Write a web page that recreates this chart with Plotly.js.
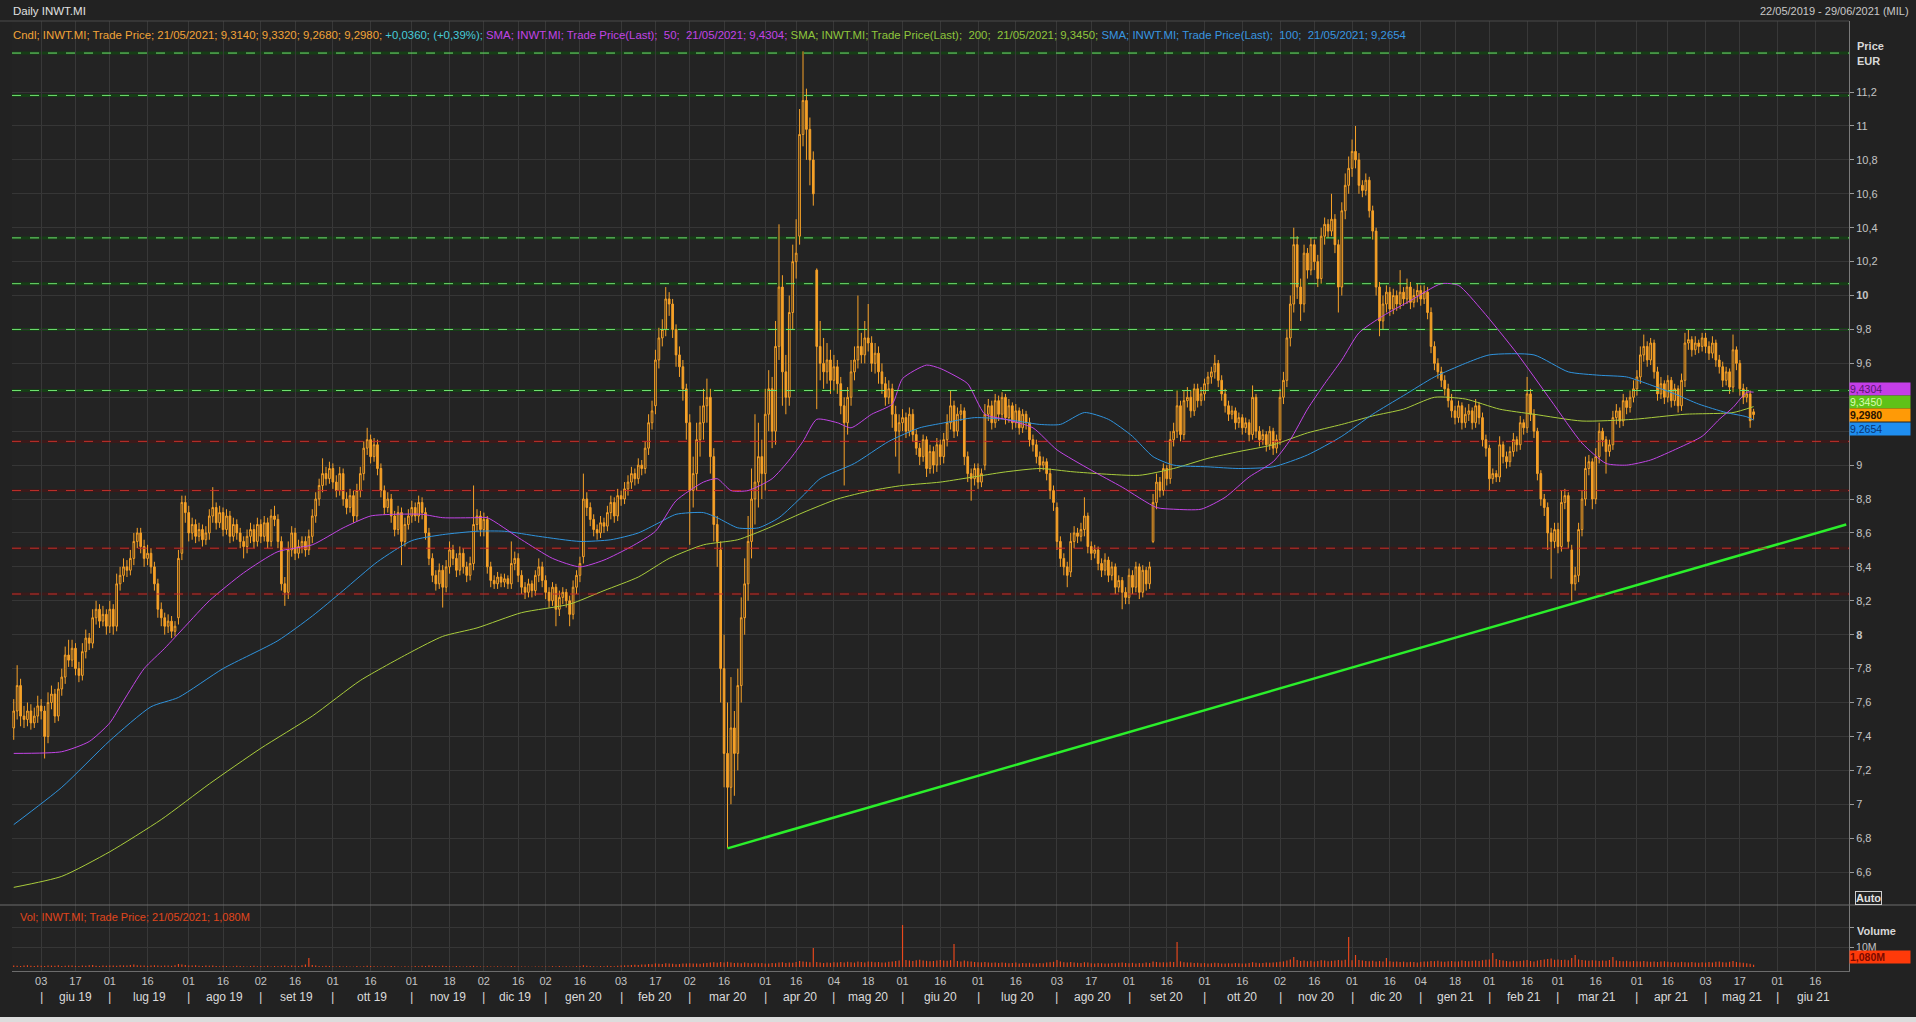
<!DOCTYPE html>
<html>
<head>
<meta charset="utf-8">
<script src="https://cdn.plot.ly/plotly-3.0.1.min.js"></script>
<style>
html,body{margin:0;padding:0;background:#222222;overflow:hidden;}
#chart{width:1916px;height:1022px;}
</style>
</head>
<body>
<div id="chart"></div>
<script>
// ---------------- DATA ----------------
const ticker = 'INWT.MI';
const startDate = '2019-05-22';
const endDate = '2021-06-29';
const marketHolidays = ['2019-08-15','2019-12-24','2019-12-25','2019-12-26','2019-12-31','2020-01-01',
  '2020-04-10','2020-04-13','2020-05-01','2020-12-24','2020-12-25','2020-12-31','2021-01-01','2021-04-02','2021-04-05'];

// daily prices in euro cents, one row per month
const openCents = [
745,755,770,752,750,755,748,752,758,755,740,760,765,752,768,775,788,785,792,780,776,790,798,795,810,815,808,812,
805,815,805,830,835,840,838,845,855,860,852,845,848,840,830,815,810,805,808,802,810,848,878,
872,860,865,858,862,856,860,870,875,866,872,862,870,858,865,860,855,852,858,862,855,
865,858,866,855,870,868,855,830,825,850,860,848,852,855,850,858,870,880,888,895,892,
898,890,885,895,880,875,882,870,885,895,910,915,905,912,898,885,875,880,870,862,872,855,865,
870,875,870,878,872,860,845,835,830,838,828,840,850,845,838,848,840,835,842,865,870,
862,868,840,832,830,834,831,833,830,842,845,835,828,825,830,826,835,840,
832,825,820,828,815,822,825,820,812,828,835,846,880,875,868,862,860,866,864,872,878,870,
882,880,886,890,895,892,900,898,910,925,935,962,975,980,998,995,980,965,958,945,
925,885,895,915,925,935,940,905,865,850,780,730,710,745,730,770,810,830,855,880,890,905,
895,930,945,920,970,1005,955,940,990,1020,1035,1095,1115,1098,1080,1015,970,960,955,962,
950,958,948,935,925,940,955,962,970,965,975,972,960,966,955,948,940,945,930,920,
925,928,920,930,918,910,905,915,898,908,900,912,905,915,925,935,920,930,932,905,895,892,
898,890,900,930,935,925,938,930,940,928,935,925,932,922,930,925,915,912,905,900,902,895,885,
875,855,845,840,837,855,860,858,862,870,852,848,850,842,838,844,835,840,828,832,825,
822,835,828,840,825,838,830,855,878,890,885,898,892,915,920,935,918,938,940,932,945,938,
942,948,952,955,960,950,942,935,930,932,925,928,922,925,918,940,920,915,918,912,920,910,
915,940,950,975,995,1030,1005,995,1025,1015,1030,1020,1010,1035,1042,1038,1045,1030,1005,1050,1065,
1075,1085,1080,1065,1062,1068,1050,1038,1005,985,995,1002,992,1000,995,1002,998,1005,996,1000,
1003,998,1002,990,970,960,955,950,945,938,932,928,935,925,930,932,925,935,928,915,
910,892,895,893,912,905,902,908,915,912,925,922,942,930,920,895,880,875,860,855,
862,852,878,882,850,830,835,862,880,898,902,880,905,920,915,908,912,928,932,926,938,934,940,
945,952,965,970,962,972,955,942,948,940,950,938,945,935,950,972,974,968,972,970,
975,970,966,972,962,958,950,955,946,968,960,945,940,942,931.4
];
const highCents = [
762,782,774,758,760,759,757,764,762,758,766,770,768,772,780,793,797,797,795,784,795,803,801,815,820,818,817,815,
820,818,836,840,845,844,850,860,863,863,856,853,851,843,833,819,813,812,811,808,850,882,882,
876,869,868,866,865,864,874,887,878,876,875,874,873,869,868,863,858,862,866,865,869,
868,870,869,874,876,871,858,834,855,864,863,856,858,858,862,874,884,892,904,899,902,
901,894,899,898,884,886,885,889,899,914,922,918,916,915,901,888,884,883,873,876,875,869,874,
879,878,882,881,875,863,848,838,842,841,844,855,853,848,852,851,843,846,888,874,873,
872,870,843,835,837,836,836,835,855,849,848,838,831,833,832,838,845,843,
835,828,831,830,826,828,827,823,832,838,846,895,884,878,871,865,870,869,876,882,881,886,
885,890,894,899,898,904,903,914,930,938,968,981,986,1005,1002,998,983,970,962,948,
930,905,925,935,945,951,945,910,870,855,800,760,775,755,780,822,845,870,898,930,925,915,
945,956,952,985,1042,1012,965,1000,1030,1045,1110,1144,1122,1105,1085,1016,985,975,972,968,
965,962,952,940,946,962,970,1000,978,985,995,976,972,970,960,952,950,948,935,930,
933,931,934,933,921,913,918,917,912,911,916,915,919,930,944,938,934,936,934,908,898,901,
901,898,936,939,938,942,941,943,942,939,937,936,934,933,932,928,918,915,908,905,904,898,888,
878,858,848,843,860,864,863,866,881,872,855,853,852,845,848,846,843,842,835,834,828,
839,838,843,842,841,840,843,883,895,893,901,900,920,925,944,938,944,946,944,948,948,946,
951,955,958,965,962,953,945,938,935,934,931,930,928,927,947,942,923,921,920,923,922,918,
945,955,980,1000,1040,1035,1010,1030,1028,1034,1033,1024,1040,1046,1045,1060,1048,1033,1055,1072,1082,
1092,1100,1084,1068,1072,1070,1053,1040,1008,1000,1006,1005,1004,1003,1015,1005,1010,1008,1004,1007,
1006,1006,1005,993,973,963,958,953,948,942,935,938,937,934,936,934,939,937,931,918,
912,898,897,917,914,908,911,919,917,929,927,952,945,933,922,897,883,878,863,866,
866,885,886,884,853,840,866,885,905,906,904,910,925,922,917,915,932,936,934,942,940,944,950,
956,970,977,973,975,974,958,952,950,953,952,948,947,954,978,980,976,976,974,978,
978,973,976,974,965,961,958,957,977,970,962,948,946,944,933.2
];
const lowCents = [
738,750,746,745,746,744,745,748,750,727,736,756,748,749,764,771,781,781,776,772,773,786,791,792,806,804,805,800,
801,800,802,826,831,834,835,841,851,848,840,841,836,826,810,805,800,801,798,799,806,844,866,
855,856,854,855,852,853,856,866,862,863,858,859,854,855,856,851,845,848,854,851,852,
854,855,851,852,864,851,826,817,821,846,844,845,848,846,847,854,866,876,884,888,889,
886,881,882,876,871,872,866,867,881,891,906,901,902,894,881,871,872,866,858,859,841,852,862,
866,867,866,868,856,841,831,826,827,816,825,836,841,834,835,836,831,832,838,861,858,
858,836,828,827,827,828,828,827,827,838,831,824,821,822,822,823,831,828,
821,816,817,805,811,818,816,805,809,824,831,842,870,864,858,856,857,860,861,868,866,867,
876,877,882,886,888,889,894,895,906,921,930,957,970,976,988,975,958,952,938,915,
853,875,885,905,915,925,895,855,840,760,710,674,700,705,720,760,800,820,845,865,875,880,
885,920,910,912,962,935,930,935,980,1010,1030,1088,1080,1065,1053,933,950,945,948,942,
944,942,930,888,918,935,950,957,960,960,967,955,954,948,942,935,936,922,905,895,
920,916,917,914,906,900,902,893,895,895,896,900,901,911,921,916,917,926,900,890,879,888,
886,887,897,926,921,922,926,927,924,925,921,922,918,919,921,911,908,901,896,897,891,880,873,
850,840,835,828,834,851,854,855,858,848,844,845,838,834,835,831,832,824,825,815,818,
818,824,825,821,822,826,827,854,874,881,882,888,889,911,916,914,915,934,928,929,934,935,
938,944,948,951,946,938,931,926,927,921,922,918,919,914,915,916,911,912,908,909,906,907,
912,936,946,970,990,998,985,990,1010,1012,1015,1005,1007,1030,1034,1035,1025,990,1000,1045,1060,
1070,1075,1060,1058,1059,1046,1033,1000,976,980,990,988,989,991,992,994,995,992,993,996,
994,995,986,966,956,951,946,941,934,928,924,925,921,922,926,921,922,924,911,905,
885,889,890,890,901,898,899,905,908,909,918,919,926,916,891,876,870,850,833,851,
848,849,874,851,820,826,831,858,876,894,874,877,901,911,895,905,909,924,922,923,930,931,937,
941,948,961,958,959,951,938,939,936,937,934,935,931,932,946,968,964,965,966,967,
966,962,963,958,954,946,947,942,943,956,941,936,937,922,926.8
];
const closeCents = [
755,770,752,750,755,748,752,758,755,740,760,765,752,768,775,788,785,792,780,776,790,798,795,810,815,808,812,805,
815,805,830,835,840,838,845,855,860,852,845,848,840,830,815,810,805,808,802,805,845,878,872,
860,865,858,862,856,860,870,875,866,872,862,870,858,865,860,855,852,858,862,855,865,
858,866,855,870,868,855,830,825,850,860,848,852,855,850,858,870,880,888,895,892,898,
890,885,895,880,875,882,870,885,895,910,915,905,912,898,885,875,880,870,862,872,855,865,870,
875,870,878,872,860,845,835,830,838,828,840,850,845,838,848,840,835,842,865,870,862,
868,840,832,830,834,831,833,830,842,845,835,828,825,830,826,835,840,832,
825,820,828,815,822,825,820,812,828,835,842,880,875,868,862,860,866,864,872,878,870,882,
880,886,890,895,892,900,898,910,925,932,962,975,980,998,995,980,965,958,945,925,
885,895,915,925,935,940,905,865,855,780,730,710,745,730,770,810,830,855,880,890,905,895,
930,945,920,970,1005,955,940,990,1020,1025,1095,1115,1098,1080,1060,970,960,955,962,950,
958,948,935,925,940,955,962,970,965,975,972,960,966,955,948,940,945,930,920,925,
928,920,930,918,910,905,915,898,908,900,912,905,915,925,935,920,930,932,905,895,892,898,
890,895,930,935,925,938,930,940,928,935,925,932,922,930,925,915,912,905,900,902,895,885,878,
855,845,840,835,855,860,858,862,870,852,848,850,842,838,844,835,840,828,832,825,822,
835,828,840,825,838,830,840,878,890,885,898,892,915,920,935,918,938,940,932,945,938,942,
948,952,955,960,950,942,935,930,932,925,928,922,925,918,940,920,915,918,912,920,910,915,
940,950,975,995,1030,1005,995,1025,1015,1030,1020,1010,1035,1042,1038,1045,1030,1005,1050,1065,1075,
1085,1080,1065,1062,1068,1050,1038,1005,985,995,1002,992,1000,995,1002,998,1005,996,1000,1003,
998,1002,990,970,960,955,950,945,938,932,928,935,925,930,932,925,935,928,915,910,
892,895,893,912,905,902,908,915,912,925,922,942,930,920,895,880,875,860,855,862,
852,878,882,855,830,835,862,880,898,902,880,905,920,915,908,912,928,932,926,938,934,940,945,
952,965,970,962,972,955,942,948,940,950,938,945,935,950,972,974,968,972,970,975,
970,966,972,962,958,950,955,946,968,960,945,940,942,926.2,929.8
];
// daily volume, millions of shares
const volumeM = [
0.8,0.6,0.5,0.7,0.9,0.6,0.5,0.7,
0.6,0.5,0.8,0.7,0.6,0.9,0.5,0.6,0.7,0.8,0.6,0.5,0.7,0.6,0.9,1.0,0.6,0.5,0.7,0.6,
0.7,0.8,0.6,0.9,0.8,0.7,1.0,1.2,0.9,0.8,0.7,0.6,0.8,0.9,0.7,0.6,0.8,0.7,0.6,0.9,1.5,1.3,1.0,
0.8,0.7,0.9,0.6,0.5,0.7,0.6,0.8,0.5,0.4,0.6,0.5,0.3,0.4,0.6,0.5,0.4,0.3,0.5,0.6,0.4,
0.5,0.4,0.6,0.3,0.5,0.4,0.6,0.8,0.5,0.7,0.6,0.5,0.9,1.2,4.5,1.0,0.7,0.5,0.4,0.6,0.5,
0.4,0.3,0.5,0.2,0.4,0.3,0.2,0.5,0.3,0.4,0.6,0.5,0.4,0.3,0.2,0.4,0.3,0.5,0.4,0.3,0.2,0.4,0.3,
0.3,0.5,0.4,0.6,0.5,0.7,0.6,0.5,0.4,0.6,0.5,0.4,0.3,0.5,0.4,0.3,0.4,0.5,0.6,0.4,0.3,
0.3,0.4,0.2,0.3,0.4,0.3,0.2,0.3,0.5,0.4,0.3,0.2,0.3,0.2,0.1,0.2,0.3,0.2,
0.3,0.2,0.4,0.3,0.5,0.3,0.4,0.2,0.3,0.4,0.5,0.9,0.6,0.5,0.4,0.3,0.5,0.4,0.6,0.5,0.4,0.6,
0.7,0.8,0.9,1.0,1.1,1.0,1.2,1.3,1.5,1.4,1.8,1.6,1.5,1.9,1.7,1.6,1.4,1.5,1.7,1.8,
1.9,1.7,1.8,1.6,1.9,2.0,2.2,2.4,2.1,2.5,2.3,2.6,2.2,2.0,2.1,1.9,2.2,2.0,1.8,2.1,1.9,2.0,
1.8,1.7,2.0,1.9,2.2,2.4,2.0,2.3,2.1,2.5,3.0,2.8,2.6,2.4,9.5,2.5,2.2,2.0,2.3,2.1,
2.4,2.2,2.5,2.3,2.6,2.4,2.2,2.7,2.5,2.3,2.8,2.6,2.4,2.5,2.3,2.2,2.6,2.8,3.0,3.2,
21.0,3.5,3.2,3.0,3.4,3.6,3.3,3.1,2.9,3.0,3.2,3.5,3.3,3.1,3.4,11.5,3.0,2.8,3.2,2.9,2.7,2.5,
2.4,2.3,2.5,2.2,2.1,2.3,2.0,2.2,2.1,1.9,2.0,2.2,1.8,2.0,1.9,2.1,1.8,1.7,2.0,1.9,2.2,2.4,2.6,
3.5,2.8,2.4,2.2,2.5,2.3,2.1,2.0,2.4,2.2,1.9,1.8,2.0,1.9,1.7,1.8,2.0,1.9,2.1,2.2,2.0,
1.9,2.1,1.8,2.0,1.9,2.2,2.0,2.8,2.5,2.3,2.4,2.2,2.6,2.5,12.5,2.8,2.4,2.2,2.3,2.0,2.1,1.9,
2.0,1.8,1.9,2.1,2.0,1.8,1.7,1.9,1.8,2.0,1.9,1.7,1.8,2.0,2.4,2.1,1.9,2.0,2.2,2.1,2.3,2.4,
2.6,2.8,3.2,3.8,5.0,3.5,3.0,3.2,2.9,3.1,2.8,3.0,3.4,3.2,2.9,3.1,3.3,3.5,3.2,3.6,15.0,
3.4,6.0,3.5,3.2,3.0,2.9,3.1,2.8,3.0,2.7,4.5,2.9,2.6,2.8,2.5,2.7,2.4,2.6,2.5,2.3,
2.6,2.8,2.7,3.0,2.9,3.1,2.8,2.6,2.9,3.0,2.7,2.8,3.2,3.0,2.9,3.1,3.3,3.0,3.4,3.6,
3.8,7.0,4.0,3.5,3.2,3.0,2.8,3.1,2.9,3.0,3.2,3.5,3.0,2.8,3.3,3.5,3.8,4.0,4.2,3.6,
3.8,3.5,3.6,3.4,4.5,6.0,3.8,3.5,3.3,3.1,3.4,3.2,3.0,3.3,3.1,3.5,5.0,3.2,3.0,2.9,3.1,2.8,3.0,
2.9,2.8,3.0,2.7,2.6,2.8,2.5,2.7,2.9,2.6,2.4,2.5,2.3,2.6,2.4,2.2,2.5,2.3,2.1,2.4,
2.2,2.5,2.3,2.6,2.8,2.4,2.2,2.6,3.0,2.5,2.3,2.1,1.9,1.6,1.08
];

// moving averages: trading-day number (0 = 22/05/2019) and value
const sma50Day = [0,14,22,28,32,38,44,50,57,67,77,87,96,104,111,119,125,135,138,148,157,165,172,180,187,193,201,205,209,214,221,226,230,234,240,244,250,256,259,266,270,274,278,283,289,297,304,314,323,333,338,346,353,360,367,372,377,382,387,392,399,407,416,421,428,438,448,457,464,470,477,485,492,497,501,505,507];
const sma50Val = [7.30,7.31,7.37,7.48,7.61,7.80,7.92,8.05,8.20,8.365,8.49,8.53,8.63,8.70,8.71,8.71,8.69,8.69,8.69,8.56,8.45,8.40,8.44,8.52,8.61,8.79,8.90,8.92,8.85,8.85,8.92,9.03,9.14,9.27,9.25,9.22,9.30,9.36,9.51,9.59,9.57,9.53,9.48,9.30,9.27,9.22,9.09,8.97,8.87,8.75,8.74,8.74,8.81,8.93,9.02,9.15,9.33,9.48,9.62,9.78,9.88,9.97,10.07,10.06,9.91,9.66,9.38,9.13,9.01,9.00,9.03,9.10,9.17,9.27,9.34,9.43,9.4304];
const sma100Day = [0,14,28,40,48,61,77,87,96,106,116,125,135,143,153,165,174,182,188,193,201,205,211,217,223,230,235,245,255,264,270,280,289,299,305,312,319,326,332,338,348,357,367,377,387,396,405,414,423,430,443,453,462,470,476,484,491,499,505,507];
const sma100Val = [6.88,7.10,7.375,7.575,7.63,7.80,7.965,8.11,8.26,8.43,8.555,8.59,8.61,8.61,8.58,8.55,8.56,8.60,8.66,8.71,8.72,8.69,8.63,8.63,8.69,8.82,8.92,9.01,9.14,9.22,9.245,9.28,9.27,9.24,9.24,9.31,9.27,9.17,9.05,9.00,8.99,8.98,8.99,9.06,9.17,9.30,9.41,9.52,9.60,9.65,9.65,9.55,9.53,9.52,9.48,9.42,9.36,9.31,9.285,9.2654];
const sma200Day = [0,14,28,43,57,72,87,101,116,125,135,148,162,172,182,191,201,211,220,230,240,250,259,270,289,299,309,328,338,348,357,367,377,387,396,405,414,423,433,443,457,472,487,501,507];
const sma200Val = [6.51,6.575,6.72,6.91,7.12,7.33,7.52,7.73,7.90,7.99,8.04,8.13,8.18,8.26,8.34,8.45,8.53,8.56,8.63,8.72,8.80,8.85,8.88,8.90,8.96,8.98,8.96,8.94,8.98,9.04,9.08,9.12,9.19,9.24,9.29,9.33,9.40,9.39,9.33,9.30,9.26,9.27,9.30,9.31,9.345];

// drawn support trend line and horizontal levels (EUR)
const trendDates = ['2020-03-17','2021-06-29'];
const trendPrices = [6.74, 8.65];
const greenLevels = [11.43, 11.18, 10.34, 10.07, 9.80, 9.44];
const redLevels = [9.14, 8.85, 8.51, 8.24];

// axis ticks
const priceTicks = [6.6,6.8,7,7.2,7.4,7.6,7.8,8,8.2,8.4,8.6,8.8,9,9.2,9.4,9.6,9.8,10,10.2,10.4,10.6,10.8,11,11.2];
const boldTicks = [8, 10];
const hiddenTicks = [9.2, 9.4];   // covered by the value badges
const tickDates = ['2019-06-03','2019-06-17','2019-07-01','2019-07-16','2019-08-01','2019-08-16','2019-09-02','2019-09-16',
 '2019-10-01','2019-10-16','2019-11-01','2019-11-18','2019-12-02','2019-12-16','2020-01-02','2020-01-16','2020-02-03','2020-02-17',
 '2020-03-02','2020-03-16','2020-04-01','2020-04-16','2020-05-04','2020-05-18','2020-06-01','2020-06-16','2020-07-01','2020-07-16',
 '2020-08-03','2020-08-17','2020-09-01','2020-09-16','2020-10-01','2020-10-16','2020-11-02','2020-11-16','2020-12-01','2020-12-16',
 '2021-01-04','2021-01-18','2021-02-01','2021-02-16','2021-03-01','2021-03-16','2021-04-01','2021-04-16','2021-05-03','2021-05-17',
 '2021-06-01','2021-06-16'];
const monthNames = ['gen','feb','mar','apr','mag','giu','lug','ago','set','ott','nov','dic'];
const firstLabelledMonth = '2019-06';

// ---------------- BUILD ----------------
const iso = d => d.toISOString().slice(0,10);
const days = [];
for (let d = new Date(startDate + 'T00:00:00Z'); iso(d) <= endDate; d.setUTCDate(d.getUTCDate() + 1)) {
  const wd = d.getUTCDay(), s = iso(d);
  if (wd === 0 || wd === 6 || marketHolidays.includes(s)) continue;
  days.push(s);
}
const dayIndex = s => days.indexOf(s);
const N = closeCents.length;
const xs = closeCents.map((_, i) => i);
const xMin = -0.5, xMax = days.length - 1 + 0.8;

const L = N - 1;
const f4 = v => v.toFixed(4).replace('.', ',');
const dmy = s => s.slice(8,10) + '/' + s.slice(5,7) + '/' + s.slice(0,4);
const lastDay = dmy(days[L]);
const chg = (closeCents[L] - closeCents[L-1]) / 100;
const pct = chg / (closeCents[L-1] / 100) * 100;
const sgn = chg >= 0 ? '+' : '-';
const sma50Last = sma50Val[sma50Val.length-1], sma100Last = sma100Val[sma100Val.length-1], sma200Last = sma200Val[sma200Val.length-1];

// plot frame (pixels) -> paper helpers
const W = 1916, H = 1022, ML = 12, MR = 67, MT = 21, MB = 51;
const PW = W - ML - MR, PH = H - MT - MB;
const px = X => (X - ML) / PW;
const py = Y => (H - MB - Y) / PH;
const splitY = py(905);
const FONT = 'Liberation Sans, Arial, sans-serif';

const traces = [];
traces.push({
  type: 'candlestick', x: xs,
  open: openCents.map(v => v/100), high: highCents.map(v => v/100),
  low: lowCents.map(v => v/100), close: closeCents.map(v => v/100),
  xaxis: 'x', yaxis: 'y',
  increasing: {line: {color: '#f6a128', width: 1}, fillcolor: '#2a2218'},
  decreasing: {line: {color: '#f6a128', width: 1}, fillcolor: '#f6a128'},
  whiskerwidth: 0, hoverinfo: 'skip', showlegend: false
});
traces.push({type:'scatter', mode:'lines', x: sma200Day, y: sma200Val, xaxis:'x', yaxis:'y',
  line:{color:'#a9cc3c', width:1, shape:'spline', smoothing:0.6}, hoverinfo:'skip', showlegend:false});
traces.push({type:'scatter', mode:'lines', x: sma100Day, y: sma100Val, xaxis:'x', yaxis:'y',
  line:{color:'#2f93dd', width:1, shape:'spline', smoothing:0.6}, hoverinfo:'skip', showlegend:false});
traces.push({type:'scatter', mode:'lines', x: sma50Day, y: sma50Val, xaxis:'x', yaxis:'y',
  line:{color:'#c244e6', width:1, shape:'spline', smoothing:0.6}, hoverinfo:'skip', showlegend:false});
traces.push({type:'scatter', mode:'lines', x: trendDates.map(dayIndex), y: trendPrices, xaxis:'x', yaxis:'y',
  line:{color:'#2bef2b', width:2.5}, hoverinfo:'skip', showlegend:false});
traces.push({type:'bar', x: xs, y: volumeM, xaxis:'x', yaxis:'y2', width: 0.34,
  marker:{color:'#e8481c', line:{width:0}}, hoverinfo:'skip', showlegend:false});

// shapes
const shapes = [];
greenLevels.forEach(v => {
  shapes.push({type:'line', xref:'paper', x0:0, x1:1, yref:'y', y0:v, y1:v, layer:'between', line:{color:'#163d16', width:3}});
  shapes.push({type:'line', xref:'paper', x0:0, x1:1, yref:'y', y0:v, y1:v, layer:'above', line:{color:'#6fe06f', width:1, dash:'dash'}});
});
redLevels.forEach(v => {
  shapes.push({type:'line', xref:'paper', x0:0, x1:1, yref:'y', y0:v, y1:v, layer:'between', line:{color:'#3b1a1a', width:3}});
  shapes.push({type:'line', xref:'paper', x0:0, x1:1, yref:'y', y0:v, y1:v, layer:'above', line:{color:'#c2302a', width:1, dash:'dash'}});
});
shapes.push({type:'line', xref:'paper', yref:'paper', x0:px(0), x1:px(W), y0:splitY, y1:splitY, line:{color:'#6c6c6c', width:1}});
shapes.push({type:'line', xref:'paper', yref:'paper', x0:px(0), x1:1, y0:1, y1:1, line:{color:'#4a4a4a', width:1}});
shapes.push({type:'rect', xref:'paper', yref:'paper', x0:px(0), x1:px(W), y0:py(1017), y1:py(1023), fillcolor:'#dcdcdc', line:{width:0}});

// annotations
const ann = [];
const legendText =
  `<span style="color:#f2a338">Cndl; ${ticker}; Trade Price; ${lastDay}; ${f4(openCents[L]/100)}; ${f4(highCents[L]/100)}; ${f4(lowCents[L]/100)}; ${f4(closeCents[L]/100)}; </span>` +
  `<span style="color:#46cbd9">${sgn}${f4(Math.abs(chg))}; (${sgn}${Math.abs(pct).toFixed(2).replace('.',',')}%); </span>` +
  `<span style="color:#c244e6">SMA; ${ticker}; Trade Price(Last);  50;  ${lastDay}; ${f4(sma50Last)}; </span>` +
  `<span style="color:#8fc63c">SMA; ${ticker}; Trade Price(Last);  200;  ${lastDay}; ${f4(sma200Last)}; </span>` +
  `<span style="color:#3896e0">SMA; ${ticker}; Trade Price(Last);  100;  ${lastDay}; ${f4(sma100Last)}</span>`;
const txt = (X, Y, text, opts) => Object.assign({xref:'paper', yref:'paper', x:px(X), y:py(Y), text, showarrow:false,
  xanchor:'left', yanchor:'middle', font:{family:FONT, size:11, color:'#cfcfcf'}}, opts||{});
ann.push(txt(11, 11, 'Daily ' + ticker, {font:{family:FONT, size:11.5, color:'#e0e0e0'}}));
ann.push(txt(1911, 11, `${dmy(days[0])} - ${dmy(days[days.length-1])} (MIL)`, {xanchor:'right', font:{family:FONT, size:11, color:'#c8c8c8'}}));
ann.push(txt(11, 35, legendText, {font:{family:FONT, size:11.4, color:'#f2a338'}}));
ann.push(txt(18, 917, `Vol; ${ticker}; Trade Price; ${lastDay}; ${volumeM[L].toFixed(3).replace('.',',')}M`, {font:{family:FONT, size:11, color:'#e0461c'}}));
ann.push(txt(1855, 46, '<b>Price</b>', {font:{family:FONT, size:11, color:'#d8d8d8'}}));
ann.push(txt(1855, 61, '<b>EUR</b>', {font:{family:FONT, size:11, color:'#d8d8d8'}}));
ann.push(txt(1855, 931, '<b>Volume</b>', {font:{family:FONT, size:11, color:'#d8d8d8'}}));
ann.push(txt(1855, 898, '<b>Auto</b>', {bordercolor:'#cfcfcf', borderwidth:1, borderpad:0, font:{family:FONT, size:11, color:'#e0e0e0'}}));

// right-hand value badges
const badge = (val, yref, shift, bg, fg, label) => ({xref:'paper', x:1, xanchor:'left', yref, y:val, yanchor:'middle', yshift:shift,
  text: label, showarrow:false, bgcolor:bg, width:60, height:12, align:'left', borderpad:0,
  font:{family:FONT, size:10.5, color:fg}});
ann.push(badge(sma50Last, 'y', 3.6, '#c43ee8', '#5a1670', f4(sma50Last)));
ann.push(badge(sma200Last, 'y', 4.6, '#5fc218', '#d8ffb0', f4(sma200Last)));
ann.push(badge(closeCents[L]/100, 'y', -0.8, '#ff9a06', '#2a1400', '<b>' + f4(closeCents[L]/100) + '</b>'));
ann.push(badge(sma100Last, 'y', -9.2, '#1f8ef0', '#0b3470', f4(sma100Last)));
ann.push(badge(volumeM[L], 'y2', 8, '#ff3a0a', '#7a0a00', '<b>' + volumeM[L].toFixed(3).replace('.',',') + 'M</b>'));

// month labels and separators under the day ticks
const monthStarts = [];
days.forEach((s, i) => {
  const key = s.slice(0,7);
  if (key >= firstLabelledMonth && (monthStarts.length === 0 || monthStarts[monthStarts.length-1].key !== key)) monthStarts.push({key, i});
});
monthStarts.forEach((m, k) => {
  const next = k + 1 < monthStarts.length ? monthStarts[k+1].i : xMax;
  const label = monthNames[parseInt(m.key.slice(5,7),10)-1] + ' ' + m.key.slice(2,4);
  ann.push({xref:'x', yref:'paper', x:(m.i + next)/2, y:py(997), text:label, showarrow:false, xanchor:'center', yanchor:'middle',
    font:{family:FONT, size:12, color:'#dadada'}});
  ann.push({xref:'x', yref:'paper', x:m.i, y:py(997), text:'|', showarrow:false, xanchor:'center', yanchor:'middle',
    font:{family:FONT, size:13, color:'#cfcfcf'}});
});

const priceTickText = priceTicks.map(v => {
  if (hiddenTicks.includes(v)) return '';
  const s = String(Math.round(v*10)/10).replace('.', ',');
  return boldTicks.includes(v) ? '<b>' + s + '</b>' : s;
});

const layout = {
  width: W, height: H,
  margin: {l: ML, r: MR, t: MT, b: MB, pad: 0},
  paper_bgcolor: '#222222', plot_bgcolor: '#232323',
  showlegend: false, hovermode: false, dragmode: false,
  font: {family: FONT, size: 11, color: '#c4c4c4'},
  xaxis: {
    anchor: 'y2', range: [xMin, xMax], rangeslider: {visible: false},
    tickmode: 'array', tickvals: tickDates.map(dayIndex), ticktext: tickDates.map(s => s.slice(8,10)),
    ticks: '', showgrid: true, gridcolor: '#383838', gridwidth: 1, zeroline: false,
    showline: true, linecolor: '#6c6c6c', linewidth: 1,
    tickfont: {family: FONT, size: 11, color: '#c4c4c4'}
  },
  yaxis: {
    domain: [splitY, 1], anchor: 'x', side: 'right', range: [6.406, 11.619],
    tickmode: 'array', tickvals: priceTicks, ticktext: priceTickText,
    ticks: 'outside', ticklen: 4, tickcolor: '#9a9a9a', showgrid: true, gridcolor: '#363636', zeroline: false,
    showline: true, linecolor: '#7a7a7a', linewidth: 1,
    tickfont: {family: FONT, size: 11, color: '#c4c4c4'}
  },
  yaxis2: {
    domain: [0, splitY], anchor: 'x', side: 'right', range: [-2, 31],
    tickmode: 'array', tickvals: [10, 20], ticktext: ['10M', ''],
    ticks: 'outside', ticklen: 4, tickcolor: '#9a9a9a', showgrid: true, gridcolor: '#363636', zeroline: false,
    showline: true, linecolor: '#7a7a7a', linewidth: 1,
    tickfont: {family: FONT, size: 10.5, color: '#c4c4c4'}
  },
  shapes: shapes,
  annotations: ann
};

Plotly.newPlot('chart', traces, layout, {staticPlot: true, displayModeBar: false});
</script>
</body>
</html>
